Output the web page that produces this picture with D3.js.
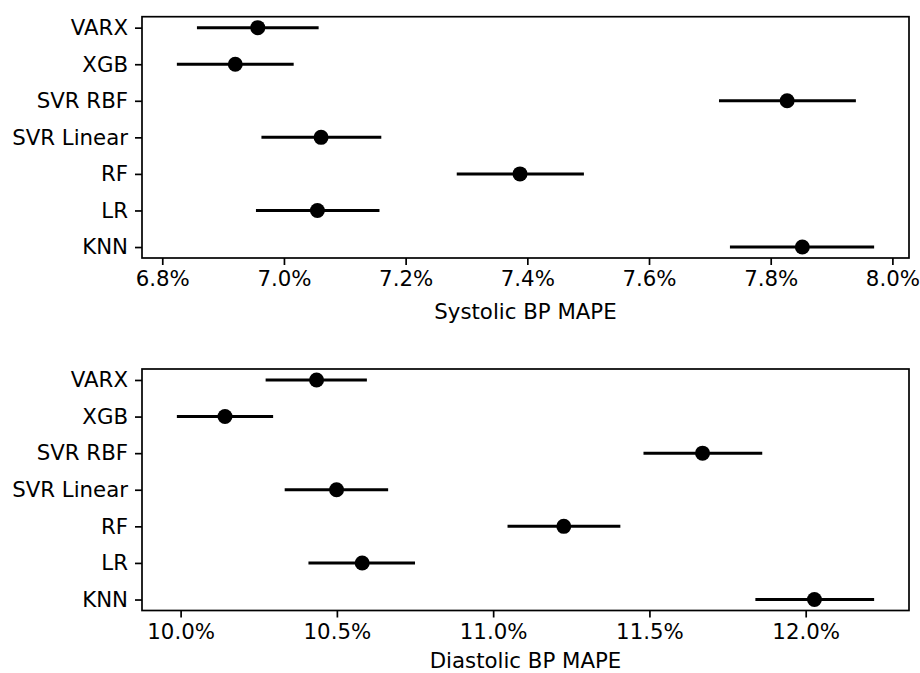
<!DOCTYPE html>
<html>
<head>
<meta charset="utf-8">
<script src="https://cdn.jsdelivr.net/npm/d3@7"></script>
<style>
	body { margin: 0; background: #fff; }
	svg text { font-family: "DejaVu Sans", sans-serif; fill: #000; }
</style>
</head>
<body>
<div id="chart"></div>
<script>
// models, top to bottom
const models = ["VARX", "XGB", "SVR RBF", "SVR Linear", "RF", "LR", "KNN"]

// systolic MAPE (%) : mean, lower, upper
const sysMean = [6.957, 6.920, 7.827, 7.061, 7.388, 7.055, 7.852]
const sysLow = [6.857, 6.824, 7.715, 6.963, 7.284, 6.954, 7.733]
const sysHigh = [7.057, 7.016, 7.940, 7.160, 7.493, 7.157, 7.970]
const sysTicks = [6.8, 7.0, 7.2, 7.4, 7.6, 7.8, 8.0]

// diastolic MAPE (%) : mean, lower, upper
const diaMean = [10.435, 10.142, 11.670, 10.499, 11.226, 10.581, 12.028]
const diaLow = [10.272, 9.988, 11.481, 10.333, 11.046, 10.409, 11.839]
const diaHigh = [10.596, 10.296, 11.861, 10.664, 11.407, 10.750, 12.219]
const diaTicks = [10.0, 10.5, 11.0, 11.5, 12.0]

const width = 920
const height = 673
const left = 142
const right = 909
const fontSize = 21.3

const svg = d3.select("#chart")
	.append("svg")
	.attr("width", width)
	.attr("height", height)

const panels = [
	{ label: "Systolic BP MAPE", mean: sysMean, low: sysLow, high: sysHigh, ticks: sysTicks, top: 16.7, bottom: 258, labelY: 319.3 },
	{ label: "Diastolic BP MAPE", mean: diaMean, low: diaLow, high: diaHigh, ticks: diaTicks, top: 369, bottom: 610.5, labelY: 668 },
]

panels.forEach((p) => {
	// 5% margin like matplotlib autoscale
	const lo = d3.min(p.low)
	const hi = d3.max(p.high)
	const pad = (hi - lo) * 0.05

	const x = d3.scaleLinear().domain([lo - pad, hi + pad]).range([left, right])
	const y = d3.scalePoint().domain(models).range([p.top, p.bottom]).padding(0.3)

	const g = svg.append("g")

	// error bars
	g.selectAll(".err")
		.data(models)
		.join("line")
		.attr("class", "err")
		.attr("x1", (d, i) => x(p.low[i]))
		.attr("x2", (d, i) => x(p.high[i]))
		.attr("y1", (d) => y(d))
		.attr("y2", (d) => y(d))
		.attr("stroke", "#000")
		.attr("stroke-width", 3)

	g.selectAll(".dot")
		.data(models)
		.join("circle")
		.attr("class", "dot")
		.attr("cx", (d, i) => x(p.mean[i]))
		.attr("cy", (d) => y(d))
		.attr("r", 7.5)
		.attr("fill", "#000")

	// frame
	g.append("rect")
		.attr("x", left)
		.attr("y", p.top)
		.attr("width", right - left)
		.attr("height", p.bottom - p.top)
		.attr("fill", "none")
		.attr("stroke", "#000")
		.attr("stroke-width", 1.7)

	// axes
	const xAxis = g.append("g")
		.attr("transform", `translate(0,${p.bottom})`)
		.call(d3.axisBottom(x).tickValues(p.ticks).tickFormat((d) => d3.format(".1f")(d) + "%").tickSize(7).tickPadding(6))

	const yAxis = g.append("g")
		.attr("transform", `translate(${left},0)`)
		.call(d3.axisLeft(y).tickSize(7).tickPadding(7))

	;[xAxis, yAxis].forEach((a) => {
		a.select(".domain").remove()
		a.selectAll(".tick line").attr("stroke", "#000").attr("stroke-width", 1.7)
		a.selectAll(".tick text").attr("font-size", fontSize).attr("font-family", "DejaVu Sans")
	})

	g.append("text")
		.attr("x", (left + right) / 2)
		.attr("y", p.labelY)
		.attr("text-anchor", "middle")
		.attr("font-size", fontSize)
		.text(p.label)
})
</script>
</body>
</html>
